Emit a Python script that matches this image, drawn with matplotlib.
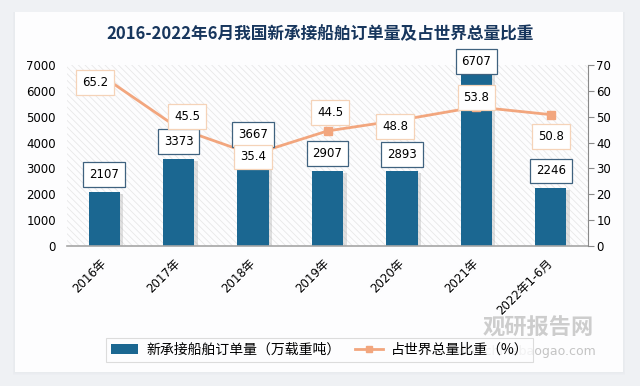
import matplotlib
matplotlib.use("Agg")
import matplotlib.pyplot as plt
import matplotlib.patheffects as pe
from matplotlib.patches import Rectangle
from matplotlib.lines import Line2D
from matplotlib.patches import Patch

plt.rcParams['font.family'] = ['DejaVu Sans', 'Noto Sans CJK SC']
plt.rcParams['hatch.linewidth'] = 0.6

categories = ["2016年", "2017年", "2018年", "2019年", "2020年", "2021年", "2022年1-6月"]
orders = [2107, 3373, 3667, 2907, 2893, 6707, 2246]
share = [65.2, 45.5, 35.4, 44.5, 48.8, 53.8, 50.8]
left_ticks = [0, 1000, 2000, 3000, 4000, 5000, 6000, 7000]
right_ticks = [0, 10, 20, 30, 40, 50, 60, 70]

title = "2016-2022年6月我国新承接船舶订单量及占世界总量比重"
bar_name = "新承接船舶订单量（万载重吨）"
line_name = "占世界总量比重（%）"

# label offsets in points (style only)
bar_label_off = [12.2, 12.2, 12.2, 12.2, 12.2, 8.0, 12.2]
line_label_off = [(-6.5, -3.5), (6, 8.6), (0, -1.8), (2, 13.3), (-4.7, -5), (0, 6.5), (0, -16)]

BAR = '#1b6791'
LINE = '#f2a67e'

fig = plt.figure(figsize=(6.4, 3.86), dpi=100, facecolor='#eff1f4')

# card with soft shadow
for i, a in enumerate([0.05, 0.05, 0.06]):
    d = (i + 1) * 0.0025
    fig.patches.append(Rectangle((0.0234 - d * 0.5, 0.0363 - d), 0.95 + d, 0.9327 + d,
                                 transform=fig.transFigure, facecolor='#c8ccd2', alpha=a,
                                 edgecolor='none', zorder=-2))
fig.patches.append(Rectangle((0.0234, 0.0363), 0.95, 0.9327, transform=fig.transFigure,
                             facecolor='#fdfdfe', edgecolor='none', zorder=-1))

ax = fig.add_axes([67 / 640, 140 / 386, 521 / 640, 181 / 386])
ax.set_facecolor('none')
ax.add_patch(Rectangle((0, 0), 1, 1, transform=ax.transAxes, facecolor='#fdfdfe',
                       edgecolor='#e8e8e8', hatch='\\\\\\\\\\', lw=0, zorder=0))

x = list(range(len(categories)))
bars = ax.bar(x, orders, width=0.42, color=BAR, zorder=2)
for b in bars:
    b.set_path_effects([pe.SimplePatchShadow(offset=(2.5, -1.5), shadow_rgbFace='#9a9a9a', alpha=0.3),
                        pe.Normal()])
ax.set_xlim(-0.5, len(categories) - 0.5)
ax.set_ylim(0, 7000)
ax.set_yticks(left_ticks)
ax.set_xticks(x)
ax.set_xticklabels(categories, rotation=45, ha='right', va='center', rotation_mode='anchor', fontsize=8.5)
ax.tick_params(axis='x', length=0, pad=11)
ax.tick_params(axis='y', length=0, pad=8, labelsize=8.5)
for s in ['left', 'right', 'top']:
    ax.spines[s].set_visible(False)
ax.spines['bottom'].set_color('#a6a6a6')
ax.spines['bottom'].set_linewidth(1.2)

ax2 = ax.twinx()
ax2.patch.set_visible(False)
ax2.plot(x, share, color=LINE, lw=2.0, marker='s', markersize=6, markerfacecolor=LINE,
         markeredgecolor=LINE, zorder=3)
ax2.set_ylim(0, 70)
ax2.set_yticks(right_ticks)
ax2.tick_params(axis='y', length=4, pad=2, labelsize=8.5, color='#8a8a8a')
for s in ['left', 'top', 'bottom']:
    ax2.spines[s].set_visible(False)
ax2.spines['right'].set_color('#8a8a8a')

for i, v in enumerate(orders):
    ax2.annotate(str(v), xy=(x[i], v), xycoords=ax.transData, xytext=(0, bar_label_off[i]),
                 textcoords='offset points', ha='center', va='center', fontsize=8.5, zorder=5,
                 bbox=dict(boxstyle='square,pad=0.5', fc='white', ec='#3f627f', lw=0.9))
for i, v in enumerate(share):
    ax2.annotate(f"{v:.1f}", xy=(x[i], v), xycoords=ax2.transData, xytext=line_label_off[i],
                 textcoords='offset points', ha='center', va='center', fontsize=8.5, zorder=5,
                 bbox=dict(boxstyle='square,pad=0.5', fc='white', ec='#f5d3b8', lw=0.9))

fig.text(0.5, 1 - 34 / 386, title, ha='center', va='center', fontsize=12, fontweight='semibold',
         color='#17365d', family=['Noto Sans CJK SC', 'DejaVu Sans'])

# watermark
fig.text(538 / 640, 1 - 328 / 386, "观研报告网", ha='center', va='center', fontsize=16,
         fontweight='bold', color='#cdcdcd', family=['Noto Sans CJK SC'], zorder=1)
fig.text(596 / 640, 1 - 351 / 386, "www.chinabaogao.com", ha='right', va='center', fontsize=9,
         color='#c4c4c4', zorder=1)

handles = [Patch(facecolor=BAR, edgecolor='none'),
           Line2D([0], [0], color=LINE, lw=2, marker='s', markersize=5)]
leg = fig.legend(handles, [bar_name, line_name], loc='center', bbox_to_anchor=(319.5 / 640, 1 - 350 / 386),
                 ncol=2, fontsize=10, frameon=True, fancybox=False, edgecolor='#d4d4d4',
                 handlelength=2.0, columnspacing=1.0, handletextpad=0.6, borderpad=0.35,
                 prop={'family': ['Noto Sans CJK SC', 'DejaVu Sans'], 'size': 10})
leg.get_frame().set_linewidth(0.8)
leg.get_frame().set_facecolor('#fdfdfe')
leg.set_zorder(4)

fig.savefig('out.png', dpi=100, facecolor=fig.get_facecolor())
